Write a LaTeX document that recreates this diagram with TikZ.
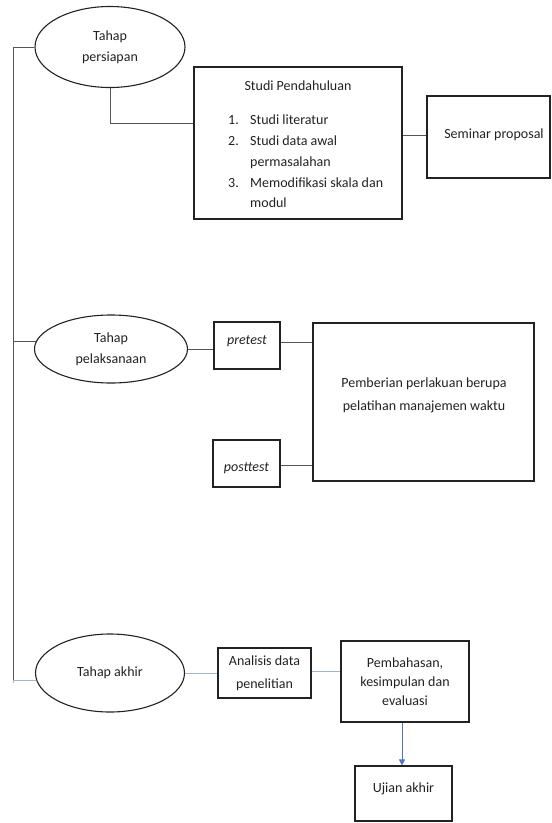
\documentclass[tikz,border=0pt]{standalone}
\usepackage{fontspec}
\setmainfont{Carlito}
\usetikzlibrary{shapes.geometric,arrows.meta}
\definecolor{inkc}{HTML}{222222}
\definecolor{linkc}{HTML}{555555}
\definecolor{bluel}{HTML}{9FB6CF}
\definecolor{arrowc}{HTML}{4A78C2}
\begin{document}
\begin{tikzpicture}[x=1pt,y=-1pt,
  every node/.style={font=\fontsize{14}{21}\selectfont, text=inkc},
  oval/.style={draw=inkc, line width=1.1pt, ellipse, inner sep=0pt, align=center},
  box/.style={draw=inkc, line width=1.2pt, rectangle, inner sep=0pt, align=center},
  txt/.style={inner sep=0pt, align=center},
  link/.style={draw=linkc, line width=0.9pt},
  bluelink/.style={draw=bluel, line width=1pt}]
\useasboundingbox (0,0) rectangle (552,823);

% ---------- Tahap persiapan ----------
\node[oval, minimum width=150pt, minimum height=81pt] (e1) at (110,47) {Tahap\\persiapan};
\node[box, minimum width=208pt, minimum height=152pt] (sp) at (298,143) {};
\node[txt, anchor=base] (spt) at (298,90) {Studi Pendahuluan};
\node[txt, anchor=base west] (n1) at (228,124) {1.};
\node[txt, anchor=base west] (i1) at (250,124) {Studi literatur};
\node[txt, anchor=base west] (n2) at (228,145) {2.};
\node[txt, anchor=base west] (i2) at (250,145) {Studi data awal};
\node[txt, anchor=base west] (i2b) at (250,166) {permasalahan};
\node[txt, anchor=base west] (n3) at (228,187) {3.};
\node[txt, anchor=base west] (i3) at (250,187) {Memodifikasi skala dan};
\node[txt, anchor=base west] (i3b) at (250,207) {modul};
\node[box, minimum width=123pt, minimum height=82pt] (sem) at (488.5,137) {};
\node[txt] (semt) at (494,135) {Seminar proposal};

% ---------- Tahap pelaksanaan ----------
\node[oval, minimum width=153pt, minimum height=68pt] (e2) at (111,349) {Tahap\\pelaksanaan};
\node[box, minimum width=66pt, minimum height=47pt] (pre) at (247,345.5) {};
\node[txt] (pret) at (247,341) {\itshape pretest};
\node[box, minimum width=67pt, minimum height=47pt] (post) at (246.5,463.5) {};
\node[txt] (postt) at (246.5,468) {\itshape posttest};
\node[box, minimum width=221pt, minimum height=158pt] (big) at (423.5,402) {};
\node[txt, font=\fontsize{14}{23}\selectfont] (bigt) at (424,395) {Pemberian perlakuan berupa\\pelatihan manajemen waktu};

% ---------- Tahap akhir ----------
\node[oval, minimum width=149pt, minimum height=78pt] (e3) at (110,673) {Tahap akhir};
\node[box, minimum width=93pt, minimum height=50pt, font=\fontsize{14}{23}\selectfont] (an) at (264.5,673) {Analisis data\\penelitian};
\node[box, minimum width=128pt, minimum height=81pt, font=\fontsize{14}{19}\selectfont] (pem) at (405,681.5) {Pembahasan,\\kesimpulan dan\\evaluasi};
\node[box, minimum width=97pt, minimum height=55pt] (uj) at (403.5,793.5) {};
\node[txt] (ujt) at (403.5,789) {Ujian akhir};

% ---------- connectors ----------
\coordinate (top) at (13,47);
\coordinate (bot) at (13,683);
\draw[link] (top) -- (bot);
\draw[link] (top) -- (e1.west);
\draw[link] (e1.south) |- ([yshift=20pt]sp.west);
\draw[link] (sp.east |- semt.west) -- (sem.west |- semt.west);
\draw[link] (e2.174 -| top) -- (e2.174);
\draw[link] (e2.east) -- (e2.east -| pre.west);
\draw[link] ([yshift=3pt]pre.east) -- ([yshift=3pt]pre.east -| big.west);
\draw[link] ([yshift=-2pt]post.east) -- ([yshift=-2pt]post.east -| big.west);
\draw[bluelink] (bot) -- (e3.186 -| bot) -- (e3.186);
\draw[bluelink] (e3.east) -- (an.west);
\draw[bluelink] ([yshift=2pt]an.east) -- ([yshift=2pt]an.east -| pem.west);
\draw[draw=arrowc, line width=0.9pt, -{Triangle[length=6pt,width=6pt,fill=arrowc]}] ([xshift=-3pt]pem.south) -- ([xshift=-3pt]pem.south |- uj.north);
\end{tikzpicture}
\end{document}
